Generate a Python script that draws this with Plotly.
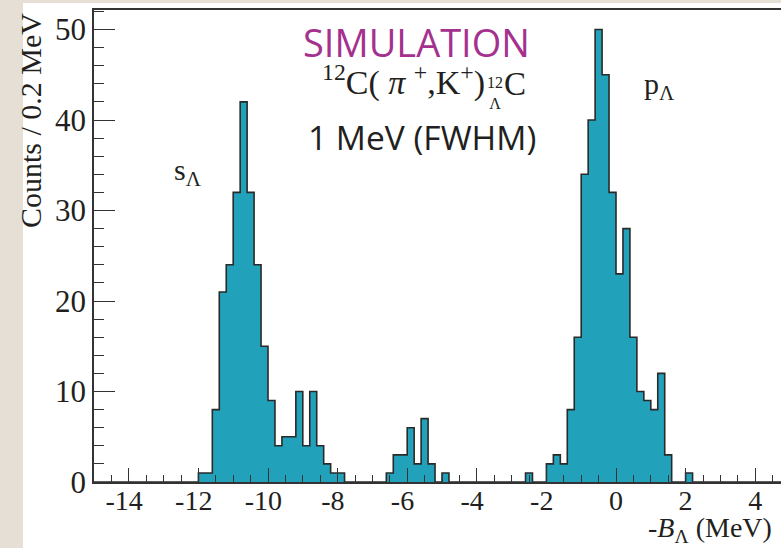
import numpy as np
import plotly.graph_objects as go

# ---- data ----
X_MIN, X_MAX, BIN_WIDTH = -15.0, 5.0, 0.2

bin_low_edges = [
    -12.0, -11.8, -11.6, -11.4, -11.2, -11.0, -10.8, -10.6, -10.4, -10.2,
    -10.0, -9.8, -9.6, -9.4, -9.2, -9.0, -8.8, -8.6, -8.4, -8.2, -8.0,
    -6.6, -6.4, -6.2, -6.0, -5.8, -5.6, -5.4, -5.0, -2.6,
    -2.0, -1.8, -1.6, -1.4, -1.2, -1.0, -0.8, -0.6, -0.4, -0.2,
    0.0, 0.2, 0.4, 0.6, 0.8, 1.0, 1.2, 1.4, 2.0,
]
counts = [
    1, 1, 8, 21, 24, 32, 42, 32, 24, 15,
    9, 4, 5, 5, 10, 4, 10, 4, 2, 1, 1,
    1, 3, 3, 6, 2, 7, 2, 1, 1,
    2, 3, 2, 8, 16, 34, 40, 50, 45, 32,
    23, 28, 16, 10, 9, 8, 12, 3, 1,
]
x_tick_values = [-14, -12, -10, -8, -6, -4, -2, 0, 2, 4]
x_tick_labels = ["-14", "-12", "-10", "-8", "-6", "-4", "-2", "0", "2", "4"]
y_tick_values = [0, 10, 20, 30, 40, 50]
y_tick_labels = ["0", "10", "20", "30", "40", "50"]

# ---- build full histogram grid ----
n_bins = int(round((X_MAX - X_MIN) / BIN_WIDTH))
edges = X_MIN + BIN_WIDTH * np.arange(n_bins + 1)
full = np.zeros(n_bins)
for e, c in zip(bin_low_edges, counts):
    full[int(round((e - X_MIN) / BIN_WIDTH))] = c
step_y = np.append(full, full[-1])

W, H = 781, 548
ML, MR, MT, MB = 94, 0, 10, 66
PW, PH = W - ML - MR, H - MT - MB
PX_PER_MEV = 34.8
PX_PER_COUNT = 9.05
x_range = [X_MIN, X_MIN + PW / PX_PER_MEV]
y_range = [0, PH / PX_PER_COUNT]

SERIF = "Liberation Serif"
SANS = "Open Sans"
INK = "#231f20"
AXC = "#333333"

# ROOT-style labels: digits centred on the tick, minus sign hanging left
x_tick_text = [t + "\u2004" if t.startswith("-") else t for t in x_tick_labels]

fig = go.Figure()
fig.add_trace(go.Scatter(
    x=edges, y=step_y, mode="lines",
    line=dict(shape="hv", color="#2a2a2a", width=1.6),
    fill="tozeroy", fillcolor="#21a2ba",
    hoverinfo="skip", showlegend=False,
))
# invisible trace that carries the minor-tick axes
fig.add_trace(go.Scatter(
    x=[x_range[0]], y=[0], xaxis="x2", yaxis="y2", mode="markers",
    marker=dict(opacity=0), hoverinfo="skip", showlegend=False,
))

common_axis = dict(showgrid=False, zeroline=False, automargin=False)

fig.update_layout(
    template="none",
    width=W, height=H,
    margin=dict(l=ML, r=MR, t=MT, b=MB, pad=0),
    paper_bgcolor="white", plot_bgcolor="white",
    font=dict(family=SERIF, size=27, color=INK),
    showlegend=False,
    xaxis=dict(
        range=x_range, **common_axis,
        showline=True, linecolor=AXC, linewidth=1.5, mirror=True,
        ticks="inside", ticklen=14, tickwidth=1.3, tickcolor=AXC,
        tickmode="array", tickvals=x_tick_values, ticktext=x_tick_text,
        tickfont=dict(family=SERIF, size=28, color=INK),
        ticklabelstandoff=-7,
    ),
    yaxis=dict(
        range=y_range, **common_axis,
        showline=True, linecolor=AXC, linewidth=1.5, mirror=False,
        ticks="inside", ticklen=21, tickwidth=1.3, tickcolor=AXC,
        tickmode="array", tickvals=y_tick_values, ticktext=y_tick_labels,
        tickfont=dict(family=SERIF, size=31, color=INK),
    ),
    xaxis2=dict(
        range=x_range, overlaying="x", anchor="y2", side="bottom", **common_axis,
        showline=False, ticks="inside", ticklen=7, tickwidth=1.3,
        tickcolor=AXC, tickmode="linear", tick0=0, dtick=0.5,
        showticklabels=False,
    ),
    yaxis2=dict(
        range=y_range, overlaying="y", anchor="x2", side="left", **common_axis,
        showline=False, ticks="inside", ticklen=10, tickwidth=1.3,
        tickcolor=AXC, tickmode="linear", tick0=0, dtick=2,
        showticklabels=False,
    ),
)

# beige page strip on the left / top
fig.add_shape(type="rect", xref="paper", yref="paper",
              x0=-ML / PW, x1=(23 - ML) / PW, y0=-MB / PH, y1=1 + MT / PH,
              fillcolor="#e5dfd5", line_width=0, layer="below")
fig.add_shape(type="rect", xref="paper", yref="paper",
              x0=(23 - ML) / PW, x1=1, y0=1 + (MT - 3) / PH, y1=1 + MT / PH,
              fillcolor="#e5dfd5", line_width=0, layer="below")


def px_to_x(px):
    return (px - ML) / PW


def py_to_y(py):
    return (H - MB - py) / PH


NB = "\u00a0"
ann = [
    dict(text="SIMULATION", x=px_to_x(416), y=py_to_y(42),
         font=dict(family=SANS, size=38, color="#a5318f")),
    # reaction formula: 12C(pi+,K+) [12 over Lambda] C
    dict(text=f"<sup>12</sup>C({NB}<i>π</i>{NB}<sup>+</sup>,K<sup>+</sup>)",
         x=px_to_x(487), y=py_to_y(104), xanchor="right", yanchor="bottom",
         font=dict(family=SERIF, size=34, color=INK)),
    dict(text="12<br>Λ", x=px_to_x(495), y=py_to_y(93),
         font=dict(family=SERIF, size=16, color=INK)),
    dict(text="C", x=px_to_x(502), y=py_to_y(104), xanchor="left", yanchor="bottom",
         font=dict(family=SERIF, size=33, color=INK)),
    dict(text="1 MeV (FWHM)", x=px_to_x(422), y=py_to_y(137),
         font=dict(family=SANS, size=33.5, color=INK)),
    dict(text="s<sub>Λ</sub>", x=px_to_x(188), y=py_to_y(172),
         font=dict(family=SERIF, size=30, color=INK)),
    dict(text="p<sub>Λ</sub>", x=px_to_x(659), y=py_to_y(86),
         font=dict(family=SERIF, size=30, color=INK)),
    dict(text="Counts / 0.2 MeV", x=px_to_x(30), y=py_to_y(121),
         textangle=-90, font=dict(family=SERIF, size=30, color=INK)),
    dict(text="-<i>B</i><sub>Λ</sub> (MeV)", x=px_to_x(710), y=py_to_y(529),
         font=dict(family=SERIF, size=28, color=INK)),
]
for a in ann:
    a.setdefault("xanchor", "center")
    a.setdefault("yanchor", "middle")
    fig.add_annotation(xref="paper", yref="paper", showarrow=False, **a)

fig.write_html(
    "out.html",
    config={"displayModeBar": False},
    post_script="document.body.style.margin='0';document.body.style.overflow='hidden';",
)
